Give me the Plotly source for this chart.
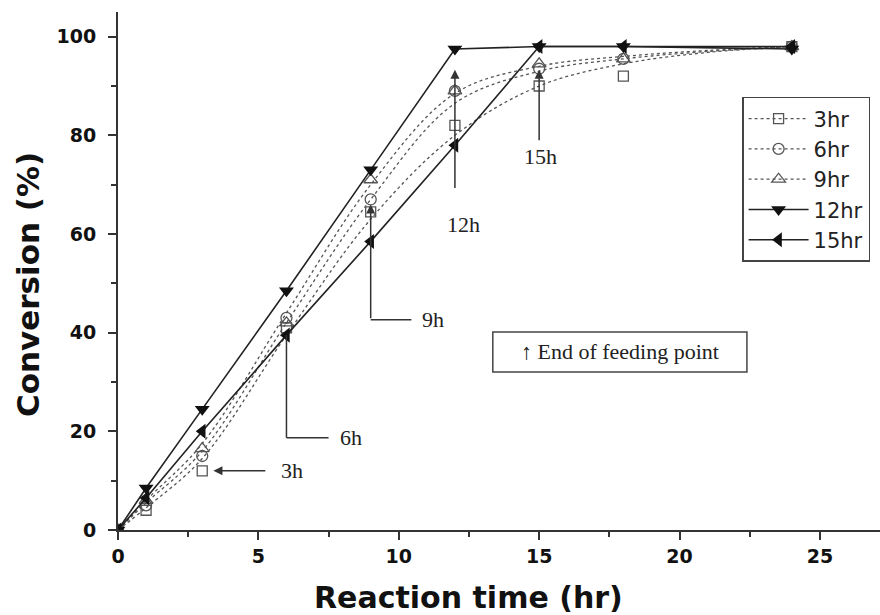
import plotly.graph_objects as go

# Measured data points (reaction time in hr, conversion in %)
t_pts = [0, 1, 3, 6, 9, 12, 15, 18, 24]
conv_3hr = [0, 4, 12, 41, 64.5, 82, 90, 92, 98]
conv_6hr = [0, 5, 15, 43, 67, 89, 93.5, 95.5, 98]
conv_9hr = [0, 6, 16.5, 42, 71, 89, 94.5, 95.5, 98]
conv_12hr = [0, 8.5, 24.5, 48.5, 73, 97.5, 98, 98, 97.5]
conv_15hr = [0, 6.5, 20, 39.5, 58.5, 78, 98, 98, 98]

# Dashed fitted curves
t_fit = [0, 1, 3, 6, 9, 12, 15, 18, 21, 24]
fit_3hr = [0, 4.5, 14.5, 39.5, 63, 80, 90, 94.5, 96.8, 98]
fit_6hr = [0, 5.5, 16, 42, 67, 86.5, 93, 95.5, 97, 98]
fit_9hr = [0, 6, 17.5, 44, 70, 88.5, 94, 96, 97.2, 98]

labels = ["3hr", "6hr", "9hr", "12hr", "15hr"]

# End-of-feeding annotation labels
feed_labels = ["3h", "6h", "9h", "12h", "15h"]

GRAY = "#555555"
DARK = "#222222"
SERIF = "Liberation Serif, Times New Roman, serif"
SANS_B = "DejaVu Sans, Arial, sans-serif"

fig = go.Figure()

dashed = [(fit_3hr, conv_3hr, "square-open", 10),
          (fit_6hr, conv_6hr, "circle-open", 11),
          (fit_9hr, conv_9hr, "triangle-up-open", 12)]
for (fit, pts, sym, sz), lab in zip(dashed, labels[:3]):
    fig.add_trace(go.Scatter(x=t_fit, y=fit, mode="lines", showlegend=False,
                             line=dict(color=GRAY, width=1.3, dash="3px,3px", shape="spline", smoothing=1.0),
                             hoverinfo="skip"))
    fig.add_trace(go.Scatter(x=t_pts, y=pts, mode="markers", showlegend=False,
                             marker=dict(symbol=sym, size=sz, color=GRAY, line=dict(width=1.3, color=GRAY))))
    fig.add_trace(go.Scatter(x=[None], y=[None], mode="lines+markers", name=lab,
                             line=dict(color=GRAY, width=1.3, dash="3px,3px"),
                             marker=dict(symbol=sym, size=sz, color=GRAY, line=dict(width=1.3, color=GRAY))))

fig.add_trace(go.Scatter(x=t_pts, y=conv_12hr, mode="lines+markers", name=labels[3],
                         line=dict(color=DARK, width=1.6),
                         marker=dict(symbol="triangle-down", size=13, color="#111111")))
fig.add_trace(go.Scatter(x=t_pts, y=conv_15hr, mode="lines+markers", name=labels[4],
                         line=dict(color=DARK, width=1.6),
                         marker=dict(symbol="triangle-left", size=13, color="#111111")))

shapes = []
annots = []
LC = "#333333"

def seg(x0, y0, x1, y1):
    shapes.append(dict(type="line", xref="x", yref="y", x0=x0, y0=y0, x1=x1, y1=y1,
                       line=dict(color=LC, width=1.5)))

def arrow(xh, yh, xt, yt):
    annots.append(dict(x=xh, y=yh, ax=xt, ay=yt, xref="x", yref="y", axref="x", ayref="y",
                       showarrow=True, arrowhead=2, arrowsize=1.2, arrowwidth=1.5,
                       arrowcolor=LC, text=""))

def label(x, y, txt, anchor="left"):
    annots.append(dict(x=x, y=y, xref="x", yref="y", text=txt, showarrow=False,
                       xanchor=anchor, yanchor="middle",
                       font=dict(family=SERIF, size=22, color="#222222")))

# 3h
arrow(3.4, 12, 5.3, 12)
label(5.75, 12, feed_labels[0])
# 6h
seg(6, 39.5, 6, 18.7)
seg(6, 18.7, 7.5, 18.7)
label(7.85, 18.7, feed_labels[1])
# 9h
arrow(9, 66, 9, 42.6)
seg(9, 42.6, 10.45, 42.6)
label(10.75, 42.6, feed_labels[2])
# 12h
arrow(12, 93.3, 12, 69)
label(12.3, 62, feed_labels[3], anchor="center")
# 15h
arrow(15, 93.3, 15, 78.7)
label(15.05, 75.7, feed_labels[4], anchor="center")

# End of feeding point box
shapes.append(dict(type="rect", xref="x", yref="y", x0=13.35, x1=22.4, y0=32.05, y1=40.16,
                   line=dict(color="#444444", width=1.5), fillcolor="rgba(0,0,0,0)"))
annots.append(dict(x=17.88, y=36.1, xref="x", yref="y", text="↑ End of feeding point",
                   showarrow=False, font=dict(family=SERIF, size=22, color="#222222")))

# Axis titles
annots.append(dict(x=0.46, y=-0.13, xref="paper", yref="paper", text="<b>Reaction time (hr)</b>",
                   showarrow=False, yanchor="middle",
                   font=dict(family=SANS_B, size=30, color="#111111")))
annots.append(dict(x=-0.118, y=0.473, xref="paper", yref="paper", text="<b>Conversion (%)</b>",
                   showarrow=False, textangle=-90, xanchor="center",
                   font=dict(family=SANS_B, size=31, color="#111111")))

fig.update_layout(
    width=880, height=615,
    margin=dict(l=118, r=0, t=12, b=85),
    paper_bgcolor="white", plot_bgcolor="white",
    shapes=shapes, annotations=annots,
    showlegend=True,
    legend=dict(x=0.819, y=0.836, xanchor="left", yanchor="top",
                bordercolor="#444444", borderwidth=1.5, bgcolor="white",
                font=dict(family="DejaVu Sans, Arial, sans-serif", size=21, color="#222222"),
                itemwidth=60, tracegroupgap=0),
)

fig.update_xaxes(range=[0, 27.14], showline=True, linecolor=LC, linewidth=2,
                 ticks="outside", ticklen=8, tickwidth=2, tickcolor=LC,
                 dtick=5, tick0=0, showgrid=False, zeroline=False,
                 minor=dict(ticks="outside", ticklen=5, tickwidth=1.5, tickcolor=LC, dtick=2.5, showgrid=False),
                 tickfont=dict(family=SANS_B, size=19, color="#111111", weight="bold"))
fig.update_yaxes(range=[0, 105], showline=True, linecolor=LC, linewidth=2,
                 ticks="outside", ticklen=8, tickwidth=2, tickcolor=LC,
                 dtick=20, tick0=0, showgrid=False, zeroline=False, ticklabelstandoff=8,
                 minor=dict(ticks="outside", ticklen=5, tickwidth=1.5, tickcolor=LC, dtick=10, showgrid=False),
                 tickfont=dict(family=SANS_B, size=19, color="#111111", weight="bold"))

fig.write_html("out.html", config={"displayModeBar": False},
               post_script="document.body.style.margin='0px';")
